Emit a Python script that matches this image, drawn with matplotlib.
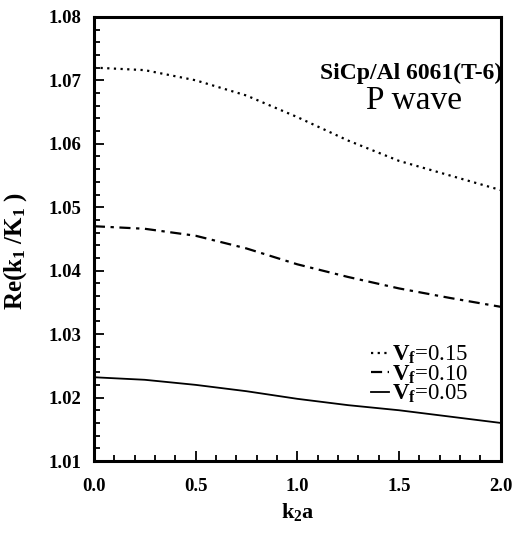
import numpy as np
import matplotlib.pyplot as plt
from matplotlib.ticker import MultipleLocator

plt.rcParams['font.family'] = ['Liberation Serif', 'DejaVu Serif']
plt.rcParams['mathtext.fontset'] = 'custom'
plt.rcParams['mathtext.rm'] = 'Liberation Serif:bold'
plt.rcParams['mathtext.bf'] = 'Liberation Serif:bold'
plt.rcParams['mathtext.it'] = 'Liberation Serif:bold'

k2a = [0.0, 0.25, 0.5, 0.75, 1.0, 1.25, 1.5, 1.75, 2.0]
vf15 = [1.0720, 1.0716, 1.0700, 1.0676, 1.0642, 1.0605, 1.0573, 1.0550, 1.0527]
vf10 = [1.0470, 1.0466, 1.0455, 1.0435, 1.0410, 1.0390, 1.0372, 1.0357, 1.0343]
vf05 = [1.0232, 1.0228, 1.0220, 1.0210, 1.0198, 1.0188, 1.0180, 1.0170, 1.0160]
labels = ['$V_f$=0.15', '$V_f$=0.10', '$V_f$=0.05']

fig = plt.figure(figsize=(5.13, 5.43), dpi=100)
ax = fig.add_axes([0.183, 0.151, 0.793, 0.818])

ax.plot(k2a, vf15, color='k', lw=1.6, ls=(0, (1, 2)), label=labels[0])
ax.plot(k2a, vf10, color='k', lw=1.6, ls=(0, (5, 2.5, 1.5, 2.5)), label=labels[1])
ax.plot(k2a, vf05, color='k', lw=1.3, ls='-', label=labels[2])

ax.set_xlim(0, 2.0)
ax.set_ylim(1.01, 1.08)
ax.xaxis.set_major_locator(MultipleLocator(0.5))
ax.xaxis.set_minor_locator(MultipleLocator(0.1))
ax.yaxis.set_major_locator(MultipleLocator(0.01))
ax.yaxis.set_minor_locator(MultipleLocator(0.002))
ax.xaxis.set_major_formatter(plt.FormatStrFormatter('%.1f'))
ax.yaxis.set_major_formatter(plt.FormatStrFormatter('%.2f'))
ax.tick_params(which='both', direction='in', width=1.3)
ax.tick_params(which='major', length=7, labelsize=13.5)
ax.tick_params(axis='x', which='major', pad=12.5)
ax.tick_params(axis='y', which='major', pad=9)
ax.tick_params(which='minor', length=4)
for lab in ax.get_xticklabels() + ax.get_yticklabels():
    lab.set_fontweight('bold')
for sp in ax.spines.values():
    sp.set_linewidth(2.2)

ax.set_xlabel('$k_2a$', fontsize=16, labelpad=4)
ax.set_ylabel('Re($k_1$ /$K_1$ )', fontsize=18, fontweight='bold')
ax.yaxis.set_label_coords(-0.16, 0.474)

ax.text(1.005, 0.86, 'SiCp/Al 6061(T-6)', transform=ax.transAxes,
        ha='right', va='baseline', fontsize=17, fontweight='bold')
ax.text(0.67, 0.793, 'P wave', transform=ax.transAxes,
        ha='left', va='baseline', fontsize=24)

leg = ax.legend(loc='center left', bbox_to_anchor=(0.68, 0.195), frameon=False,
                fontsize=16.5, handlelength=0.8, handletextpad=0.15,
                labelspacing=-0.12, borderaxespad=0.0, borderpad=0.0)
for t in leg.get_texts():
    t.set_fontweight('normal')

fig.savefig('out.png', dpi=100)
